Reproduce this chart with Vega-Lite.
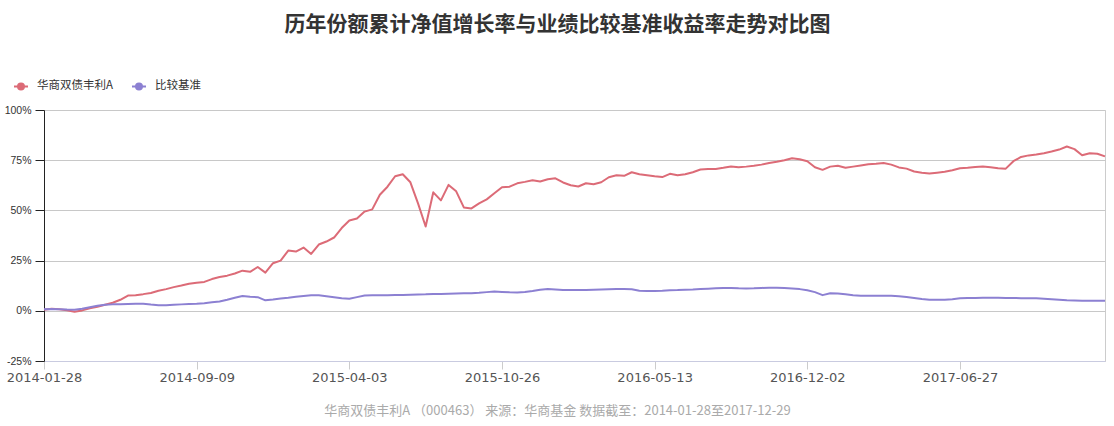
{
  "$schema": "https://vega.github.io/schema/vega-lite/v6.json",
  "autosize": {"type": "none"},
  "padding": {"left": 44, "top": 110, "right": 9, "bottom": 65},
  "width": 1061,
  "height": 251,
  "background": "#ffffff",
  "config": {
    "view": {"stroke": "#cccccc", "strokeWidth": 1},
    "font": "Noto Sans CJK SC"
  },
  "title": {
    "text": "历年份额累计净值增长率与业绩比较基准收益率走势对比图",
    "anchor": "middle",
    "dx": -17,
    "offset": 43,
    "font": "Noto Sans CJK SC",
    "fontSize": 21,
    "fontWeight": "bold",
    "color": "#333333"
  },
  "data": {
    "values": [
      {"d": "2014-01-28", "华商双债丰利A": 0.5, "比较基准": 0.8},
      {"d": "2014-02-10", "华商双债丰利A": 1.0, "比较基准": 0.9},
      {"d": "2014-02-20", "华商双债丰利A": 0.8, "比较基准": 0.8},
      {"d": "2014-03-04", "华商双债丰利A": 0.3, "比较基准": 0.6},
      {"d": "2014-03-14", "华商双债丰利A": -0.5, "比较基准": 0.5},
      {"d": "2014-03-26", "华商双债丰利A": 0.2, "比较基准": 1.0},
      {"d": "2014-04-08", "华商双债丰利A": 1.3, "比较基准": 1.8},
      {"d": "2014-04-18", "华商双债丰利A": 2.0, "比较基准": 2.5},
      {"d": "2014-04-30", "华商双债丰利A": 3.0, "比较基准": 3.0},
      {"d": "2014-05-13", "华商双债丰利A": 4.0, "比较基准": 3.2},
      {"d": "2014-05-23", "华商双债丰利A": 5.5, "比较基准": 3.3},
      {"d": "2014-06-05", "华商双债丰利A": 7.6, "比较基准": 3.4},
      {"d": "2014-06-17", "华商双债丰利A": 7.8, "比较基准": 3.5},
      {"d": "2014-06-27", "华商双债丰利A": 8.3, "比较基准": 3.5},
      {"d": "2014-07-09", "华商双债丰利A": 8.9, "比较基准": 3.1},
      {"d": "2014-07-21", "华商双债丰利A": 10.0, "比较基准": 2.8},
      {"d": "2014-07-31", "华商双债丰利A": 10.8, "比较基准": 2.8},
      {"d": "2014-08-12", "华商双债丰利A": 11.8, "比较基准": 3.0},
      {"d": "2014-08-22", "华商双债丰利A": 12.6, "比较基准": 3.2},
      {"d": "2014-09-02", "华商双债丰利A": 13.5, "比较基准": 3.4},
      {"d": "2014-09-09", "华商双债丰利A": 14.0, "比较基准": 3.5},
      {"d": "2014-09-19", "华商双债丰利A": 14.4, "比较基准": 3.8},
      {"d": "2014-09-30", "华商双债丰利A": 15.8, "比较基准": 4.2},
      {"d": "2014-10-10", "华商双债丰利A": 16.8, "比较基准": 4.6},
      {"d": "2014-10-20", "华商双债丰利A": 17.5, "比较基准": 5.5},
      {"d": "2014-10-30", "华商双债丰利A": 18.6, "比较基准": 6.5},
      {"d": "2014-11-10", "华商双债丰利A": 20.0, "比较基准": 7.4},
      {"d": "2014-11-20", "华商双债丰利A": 19.4, "比较基准": 7.0},
      {"d": "2014-12-01", "华商双债丰利A": 21.8, "比较基准": 6.8},
      {"d": "2014-12-11", "华商双债丰利A": 19.0, "比较基准": 5.2},
      {"d": "2014-12-22", "华商双债丰利A": 23.7, "比较基准": 5.6},
      {"d": "2015-01-02", "华商双债丰利A": 25.0, "比较基准": 6.1},
      {"d": "2015-01-12", "华商双债丰利A": 30.0, "比较基准": 6.5},
      {"d": "2015-01-22", "华商双债丰利A": 29.5, "比较基准": 7.0},
      {"d": "2015-02-02", "华商双债丰利A": 31.5, "比较基准": 7.4},
      {"d": "2015-02-12", "华商双债丰利A": 28.3, "比较基准": 7.8},
      {"d": "2015-02-27", "华商双债丰利A": 33.0, "比较基准": 7.7},
      {"d": "2015-03-05", "华商双债丰利A": 34.5, "比较基准": 7.2},
      {"d": "2015-03-16", "华商双债丰利A": 36.5, "比较基准": 6.7},
      {"d": "2015-03-24", "华商双债丰利A": 41.2, "比较基准": 6.2},
      {"d": "2015-04-03", "华商双债丰利A": 45.0, "比较基准": 6.0},
      {"d": "2015-04-14", "华商双债丰利A": 46.0, "比较基准": 6.8},
      {"d": "2015-04-24", "华商双债丰利A": 49.4, "比较基准": 7.6},
      {"d": "2015-05-05", "华商双债丰利A": 50.5, "比较基准": 7.7},
      {"d": "2015-05-15", "华商双债丰利A": 57.8, "比较基准": 7.8},
      {"d": "2015-05-26", "华商双债丰利A": 61.8, "比较基准": 7.8},
      {"d": "2015-06-05", "华商双债丰利A": 67.0, "比较基准": 7.9},
      {"d": "2015-06-15", "华商双债丰利A": 68.0, "比较基准": 7.9},
      {"d": "2015-06-25", "华商双债丰利A": 64.0, "比较基准": 8.0},
      {"d": "2015-07-06", "华商双债丰利A": 53.5, "比较基准": 8.1},
      {"d": "2015-07-16", "华商双债丰利A": 42.0, "比较基准": 8.2},
      {"d": "2015-07-27", "华商双债丰利A": 59.0, "比较基准": 8.4},
      {"d": "2015-08-06", "华商双债丰利A": 55.0, "比较基准": 8.4},
      {"d": "2015-08-17", "华商双债丰利A": 62.7, "比较基准": 8.5},
      {"d": "2015-08-27", "华商双债丰利A": 59.5, "比较基准": 8.6},
      {"d": "2015-09-07", "华商双债丰利A": 51.5, "比较基准": 8.7},
      {"d": "2015-09-17", "华商双债丰利A": 51.0, "比较基准": 8.8},
      {"d": "2015-09-28", "华商双债丰利A": 53.5, "比较基准": 9.0},
      {"d": "2015-10-08", "华商双债丰利A": 55.5, "比较基准": 9.3},
      {"d": "2015-10-16", "华商双债丰利A": 58.5, "比较基准": 9.6},
      {"d": "2015-10-26", "华商双债丰利A": 61.5, "比较基准": 9.4},
      {"d": "2015-11-05", "华商双债丰利A": 61.8, "比较基准": 9.2},
      {"d": "2015-11-16", "华商双债丰利A": 63.5, "比较基准": 9.1},
      {"d": "2015-11-26", "华商双债丰利A": 64.2, "比较基准": 9.4},
      {"d": "2015-12-07", "华商双债丰利A": 65.0, "比较基准": 9.9},
      {"d": "2015-12-16", "华商双债丰利A": 64.4, "比较基准": 10.5},
      {"d": "2015-12-25", "华商双债丰利A": 65.5, "比较基准": 10.8},
      {"d": "2016-01-05", "华商双债丰利A": 66.0, "比较基准": 10.6},
      {"d": "2016-01-15", "华商双债丰利A": 63.9, "比较基准": 10.4},
      {"d": "2016-01-25", "华商双债丰利A": 62.5, "比较基准": 10.3},
      {"d": "2016-02-04", "华商双债丰利A": 61.9, "比较基准": 10.3},
      {"d": "2016-02-15", "华商双债丰利A": 63.5, "比较基准": 10.4},
      {"d": "2016-02-25", "华商双债丰利A": 63.0, "比较基准": 10.5},
      {"d": "2016-03-07", "华商双债丰利A": 64.0, "比较基准": 10.6},
      {"d": "2016-03-16", "华商双债丰利A": 66.5, "比较基准": 10.7},
      {"d": "2016-03-25", "华商双债丰利A": 67.5, "比较基准": 10.8},
      {"d": "2016-04-05", "华商双债丰利A": 67.2, "比较基准": 10.8},
      {"d": "2016-04-14", "华商双债丰利A": 69.0, "比较基准": 10.7},
      {"d": "2016-04-22", "华商双债丰利A": 68.0, "比较基准": 10.0},
      {"d": "2016-05-03", "华商双债丰利A": 67.5, "比较基准": 9.8},
      {"d": "2016-05-13", "华商双债丰利A": 67.0, "比较基准": 9.9},
      {"d": "2016-05-23", "华商双债丰利A": 66.6, "比较基准": 10.0},
      {"d": "2016-06-02", "华商双债丰利A": 68.2, "比较基准": 10.2},
      {"d": "2016-06-14", "华商双债丰利A": 67.5, "比较基准": 10.3},
      {"d": "2016-06-24", "华商双债丰利A": 68.0, "比较基准": 10.5},
      {"d": "2016-07-04", "华商双债丰利A": 69.0, "比较基准": 10.6},
      {"d": "2016-07-14", "华商双债丰利A": 70.4, "比较基准": 10.8},
      {"d": "2016-07-25", "华商双债丰利A": 70.6, "比较基准": 11.0},
      {"d": "2016-08-04", "华商双债丰利A": 70.6, "比较基准": 11.2},
      {"d": "2016-08-15", "华商双债丰利A": 71.2, "比较基准": 11.4},
      {"d": "2016-08-25", "华商双债丰利A": 71.9, "比较基准": 11.4},
      {"d": "2016-09-05", "华商双债丰利A": 71.5, "比较基准": 11.2},
      {"d": "2016-09-14", "华商双债丰利A": 71.8, "比较基准": 11.1},
      {"d": "2016-09-26", "华商双债丰利A": 72.2, "比较基准": 11.2},
      {"d": "2016-10-11", "华商双债丰利A": 72.8, "比较基准": 11.4},
      {"d": "2016-10-20", "华商双债丰利A": 73.6, "比较基准": 11.5},
      {"d": "2016-10-31", "华商双债丰利A": 74.2, "比较基准": 11.5},
      {"d": "2016-11-09", "华商双债丰利A": 75.0, "比较基准": 11.3},
      {"d": "2016-11-17", "华商双债丰利A": 76.0, "比较基准": 11.1},
      {"d": "2016-11-24", "华商双债丰利A": 75.5, "比较基准": 10.8},
      {"d": "2016-12-02", "华商双债丰利A": 74.5, "比较基准": 10.2},
      {"d": "2016-12-12", "华商双债丰利A": 71.5, "比较基准": 9.3},
      {"d": "2016-12-22", "华商双债丰利A": 70.2, "比较基准": 7.8},
      {"d": "2017-01-03", "华商双债丰利A": 71.8, "比较基准": 8.7},
      {"d": "2017-01-13", "华商双债丰利A": 72.2, "比较基准": 8.6},
      {"d": "2017-01-24", "华商双债丰利A": 71.2, "比较基准": 8.2},
      {"d": "2017-02-06", "华商双债丰利A": 71.8, "比较基准": 7.8},
      {"d": "2017-02-16", "华商双债丰利A": 72.4, "比较基准": 7.5},
      {"d": "2017-02-27", "华商双债丰利A": 73.0, "比较基准": 7.5},
      {"d": "2017-03-09", "华商双债丰利A": 73.2, "比较基准": 7.5},
      {"d": "2017-03-20", "华商双债丰利A": 73.6, "比较基准": 7.5},
      {"d": "2017-03-30", "华商双债丰利A": 72.8, "比较基准": 7.5},
      {"d": "2017-04-11", "华商双债丰利A": 71.4, "比较基准": 7.3},
      {"d": "2017-04-21", "华商双债丰利A": 70.8, "比较基准": 6.9},
      {"d": "2017-05-03", "华商双债丰利A": 69.4, "比较基准": 6.4},
      {"d": "2017-05-12", "华商双债丰利A": 68.8, "比较基准": 5.9},
      {"d": "2017-05-23", "华商双债丰利A": 68.4, "比较基准": 5.5},
      {"d": "2017-06-02", "华商双债丰利A": 68.8, "比较基准": 5.5},
      {"d": "2017-06-12", "华商双债丰利A": 69.2, "比较基准": 5.5},
      {"d": "2017-06-20", "华商双债丰利A": 70.0, "比较基准": 5.8},
      {"d": "2017-06-27", "华商双债丰利A": 71.0, "比较基准": 6.2},
      {"d": "2017-07-07", "华商双债丰利A": 71.2, "比较基准": 6.4},
      {"d": "2017-07-17", "华商双债丰利A": 71.6, "比较基准": 6.4},
      {"d": "2017-07-27", "华商双债丰利A": 71.9, "比较基准": 6.5},
      {"d": "2017-08-07", "华商双债丰利A": 71.5, "比较基准": 6.5},
      {"d": "2017-08-16", "华商双债丰利A": 71.0, "比较基准": 6.5},
      {"d": "2017-08-25", "华商双债丰利A": 70.8, "比较基准": 6.4},
      {"d": "2017-09-05", "华商双债丰利A": 74.5, "比较基准": 6.4},
      {"d": "2017-09-14", "华商双债丰利A": 76.6, "比较基准": 6.3},
      {"d": "2017-09-25", "华商双债丰利A": 77.4, "比较基准": 6.2},
      {"d": "2017-10-11", "华商双债丰利A": 77.8, "比较基准": 6.2},
      {"d": "2017-10-20", "华商双债丰利A": 78.5, "比较基准": 6.0},
      {"d": "2017-10-30", "华商双债丰利A": 79.3, "比较基准": 5.8},
      {"d": "2017-11-08", "华商双债丰利A": 80.3, "比较基准": 5.5},
      {"d": "2017-11-17", "华商双债丰利A": 81.8, "比较基准": 5.2},
      {"d": "2017-11-28", "华商双债丰利A": 80.5, "比较基准": 5.1},
      {"d": "2017-12-07", "华商双债丰利A": 77.5, "比较基准": 5.0},
      {"d": "2017-12-15", "华商双债丰利A": 78.5, "比较基准": 5.0},
      {"d": "2017-12-22", "华商双债丰利A": 78.2, "比较基准": 5.0},
      {"d": "2017-12-29", "华商双债丰利A": 76.9, "比较基准": 5.0}
    ]
  },
  "transform": [
    {"fold": ["华商双债丰利A", "比较基准"], "as": ["series", "v"]}
  ],
  "mark": {"type": "line", "strokeWidth": 2, "strokeJoin": "round"},
  "encoding": {
    "x": {
      "field": "d",
      "type": "ordinal",
      "scale": {"type": "point", "padding": 0},
      "axis": {
        "values": ["2014-01-28", "2014-09-09", "2015-04-03", "2015-10-26", "2016-05-13", "2016-12-02", "2017-06-27"],
        "labelAngle": 0,
        "labelFont": "DejaVu Sans",
        "labelFontSize": 13,
        "labelColor": "#555555",
        "labelPadding": 2,
        "domainColor": "#c9cbe0",
        "tickColor": "#cccccc",
        "tickSize": 8,
        "grid": false,
        "title": "华商双债丰利A （000463） 来源：华商基金 数据截至：2014-01-28至2017-12-29",
        "titleFont": "Noto Sans CJK SC",
        "titleFontSize": 13,
        "titleFontWeight": "normal",
        "titleColor": "#aaaaaa",
        "titleX": 513,
        "titleY": 49,
        "titleBaseline": "middle",
        "titleAnchor": "middle"
      }
    },
    "y": {
      "field": "v",
      "type": "quantitative",
      "scale": {"domain": [-25, 100], "nice": false, "zero": false},
      "axis": {
        "values": [-25, 0, 25, 50, 75, 100],
        "labelExpr": "datum.value + '%'",
        "labelFont": "Liberation Sans",
        "labelFontSize": 10.5,
        "labelColor": "#333333",
        "labelPadding": 4,
        "domainColor": "#222222",
        "tickColor": "#222222",
        "tickSize": 9,
        "gridColor": "#c8c8c8",
        "title": null
      }
    },
    "color": {
      "field": "series",
      "type": "nominal",
      "scale": {"domain": ["华商双债丰利A", "比较基准"], "range": ["#dc6b77", "#8c80d2"]},
      "legend": {
        "title": null,
        "orient": "none",
        "direction": "horizontal",
        "legendX": -31,
        "legendY": -32,
        "padding": 0,
        "symbolType": "M-1,0L1,0M0.43,0A0.43,0.43,0,1,1,-0.43,0A0.43,0.43,0,1,1,0.43,0Z",
        "symbolSize": 196,
        "symbolStrokeWidth": 2,
        "labelFont": "Noto Sans CJK SC",
        "labelFontSize": 11.5,
        "labelColor": "#333333",
        "labelOffset": 8,
        "columnPadding": 15,
        "encode": {
          "symbols": {"update": {"fill": {"scale": "color", "field": "value"}}}
        }
      }
    }
  }
}
